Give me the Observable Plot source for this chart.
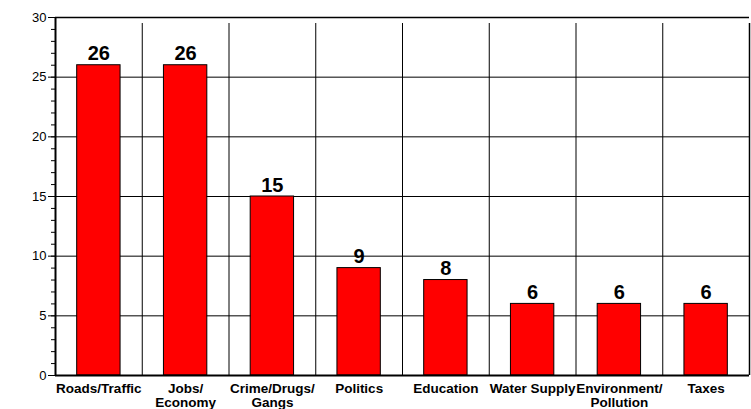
<!DOCTYPE html>
<html>
<head>
<meta charset="utf-8">
<script src="https://cdn.jsdelivr.net/npm/d3@7"></script>
<script src="https://cdn.jsdelivr.net/npm/@observablehq/plot@0.6"></script>
<style>
  html, body { margin: 0; padding: 0; background: #fff; }
  #chart svg { display: block; font-family: "Liberation Sans", Arial, Helvetica, sans-serif; }
</style>
</head>
<body>
<div id="chart"></div>
<script>
const categories = ["Roads/Traffic", "Jobs/\nEconomy", "Crime/Drugs/\nGangs", "Politics", "Education", "Water Supply", "Environment/\nPollution", "Taxes"];
const values = [26, 26, 15, 9, 8, 6, 6, 6];
const majorTicks = [0, 5, 10, 15, 20, 25, 30];
const minorTicks = d3.range(0, 31);

const data = categories.map((c, i) => ({category: c, value: values[i]}));

const W = 751, H = 409;
const mL = 55, mR = 2, mT = 17, mB = 34;
const half = (W - mL - mR) / categories.length / 2;

const chart = Plot.plot({
  width: W,
  height: H,
  marginLeft: mL,
  marginRight: mR,
  marginTop: mT,
  marginBottom: mB,
  style: {fontFamily: "'Liberation Sans', Arial, Helvetica, sans-serif", color: "#000", background: "#fff", overflow: "visible"},
  x: {domain: categories, padding: 0, round: false},
  y: {domain: [0, 30]},
  marks: [
    // horizontal grid
    Plot.ruleY(majorTicks, {stroke: "#000", strokeWidth: 1}),
    // vertical grid at category boundaries (extend below as ticks)
    Plot.ruleX(categories, {x: d => d, y1: 0, y2: 30, dx: -half, insetBottom: -6, stroke: "#000", strokeWidth: 1}),
    Plot.ruleX([categories[categories.length - 1]], {x: d => d, y1: 0, y2: 30, dx: half, insetBottom: -6, stroke: "#000", strokeWidth: 1.5}),
    // bars
    Plot.barY(data, {x: "category", y: "value", fill: "#ff0000", stroke: "#000", strokeWidth: 1, insetLeft: half / 2, insetRight: half / 2}),
    // value labels
    Plot.text(data, {x: "category", y: "value", text: d => String(d.value), lineAnchor: "bottom", dy: -5, fontSize: 20, fontWeight: "bold", fill: "#000"}),
    // y axis
    Plot.axisY({ticks: minorTicks, tickSize: 4, tickFormat: () => "", label: null, stroke: "#000", strokeOpacity: 1}),
    Plot.axisY({ticks: majorTicks, tickSize: 7, tickPadding: 2, label: null, fontSize: 13, fill: "#000", stroke: "#000", strokeOpacity: 1}),
    Plot.ruleX([categories[0]], {x: d => d, y1: 0, y2: 30, dx: -half, stroke: "#000", strokeWidth: 2}),
    // x axis labels
    Plot.axisX({tickSize: 0, tickPadding: 8, label: null, fontSize: 13.5, fontWeight: "bold", fill: "#000", lineHeight: 1.0, lineAnchor: "top"}),
    // bottom axis line and frame top
    Plot.ruleY([0], {stroke: "#000", strokeWidth: 2}),
    Plot.ruleY([30], {stroke: "#000", strokeWidth: 1.5})
  ]
});

document.getElementById("chart").appendChild(chart);
</script>
</body>
</html>
